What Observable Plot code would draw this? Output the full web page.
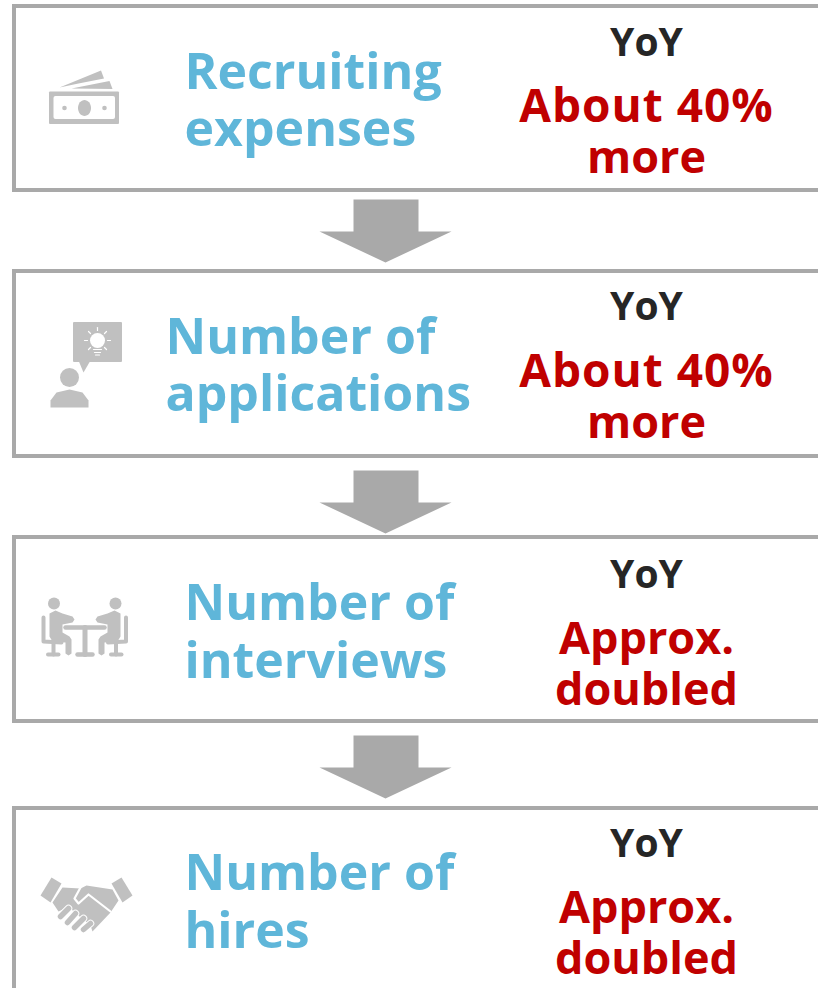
<!DOCTYPE html>
<html><head><meta charset="utf-8">
<style>html,body{margin:0;padding:0;background:#fff;overflow:hidden}svg{display:block}
.wide text{letter-spacing:1px}</style>
<script src="https://cdn.jsdelivr.net/npm/d3@7"></script>
<script src="https://cdn.jsdelivr.net/npm/@observablehq/plot@0.6"></script>
</head><body><script>
const FONT = "'Open Sans'";
const BLUE="#5fb6d9", RED="#c00000", DARK="#262626", GRAY="#a9a9a9", ICON="#c0c0c0";

const stepNames = [["Recruiting","expenses"],["Number of","applications"],["Number of","interviews"],["Number of","hires"]];
const stepX = [184,165,184,184];
const stepBase = [[88,145],[353,410],[619,677],[889,947]];
const yoyBase = [55,319,587,856];
const changes = [["About 40%","more"],["About 40%","more"],["Approx.","doubled"],["Approx.","doubled"]];
const changeBase = [[121,172],[386,437],[653,704],[922,973]];
const boxes = [[6,190],[271,456],[537,721],[808,1000]];
const arrowTops = [199,470,735];

const labels = stepNames.flatMap((p,i)=>p.map((t,j)=>({t,x:stepX[i],y:stepBase[i][j]})));
const yoy = yoyBase.map(y=>({t:"YoY",x:646,y}));
const chg = changes.flatMap((p,i)=>p.map((t,j)=>({t,x:646,y:changeBase[i][j]})));
const arrows = arrowTops.flatMap((t,i)=>[[353,0],[418,0],[418,32],[451,32],[385,63],[319,32],[353,32]].map(([x,d])=>({id:i,x,y:t+d})));

const poly=(id,pts)=>pts.map(([x,y])=>({id,x,y}));
const torsoL=[[49,613],[55,610],[62,613],[72,616],[74,619],[72,622],[62,624],[62,632],[69,636],[71,639],[71,653],[68,655],[65,653],[65,642],[52,641],[49,636]];
const torsoR=[[120,613],[114,610],[107,613],[97,616],[95,619],[97,622],[107,624],[107,632],[100,636],[98,639],[98,653],[101,655],[104,653],[104,642],[117,641],[120,636]];
const grayPolys=[
 ...poly("b1",[[59,87],[100.5,70],[103.5,78],[78,83]]),
 ...poly("b2",[[71,88],[109,80.5],[112,88.5]]),
 ...poly("tail",[[78,360],[90,360],[83,372]]),
 ...poly("cl",[[40,895],[51,877],[61,883],[50,902]]),
 ...poly("cr",[[111,883],[121,877],[132,895],[122,902]]),
 ...poly("hand",[[62,887],[80,888],[86,885],[112,889],[118,900],[110,912],[92,931],[90,925],[73,911],[69,906],[58,911],[52,902]]),
 ...poly("tl",torsoL),
 ...poly("tr",torsoR),
];
const rectsGray=[{x1:49,x2:119,y1:91.5,y2:124},{x1:73,x2:122,y1:322,y2:362}];
const rectsWhite=[{x1:53.5,x2:115,y1:96,y2:119}];
const ellipse=poly("e",[[84,99.5],[88.6,101.8],[90.5,107.5],[88.6,113.2],[84,115.5],[79.4,113.2],[77.5,107.5],[79.4,101.8]]);
const grayDots=[{x:64,y:107.5,r:2.3},{x:104,y:107.5,r:2.3},{x:69,y:377,r:9.5},{x:53.5,y:603,r:6},{x:115,y:603,r:6}];
const dome=poly("d",[[50,407],[50,400],[56,392],[69,389],[82,392],[88,400],[88,407]]);
const whiteDots=[{x:97,y:340,r:7.5}];
const bulb=[[[93,349],[101,349]],[[94,352],[100,352]],[[95,354.5],[99,354.5]],
 [[84,340],[87,340]],[[107,340],[110,340]],[[97,327],[97,330]],[[88,331],[90,333]],[[106,331],[104,333]],[[88,349],[90,347]],[[106,349],[104,347]]];
const seated=[
 [4,[[43,617],[43,641],[61,642]]],[4,[[53,642],[53,654]]],[4,[[47.5,654],[58,654]]],
 [4,[[125.5,617],[125.5,641],[107.5,642]]],[4,[[115.5,642],[115.5,654]]],[4,[[110.5,654],[121,654]]],
 [4.5,[[65,627],[104,627]]],[5,[[84.5,627],[84.5,654]]],[4.5,[[77,654],[92,654]]]
];
const thumb=[[2.2,[[80,887],[74,898],[78,903],[88,894],[110,911]]]];
const fingerLines=[[[60,916],[68,908]],[[67,922],[75,913]],[[74,927],[83,918]],[[83,929],[90,923]]];

const strokeMarks=(list,stroke)=>list.map(([w,pts])=>Plot.line(pts.map(([x,y])=>({x,y})),{x:"x",y:"y",stroke,strokeWidth:w,strokeLinecap:"round",strokeLinejoin:"round",curve:"linear"}));
const txt=(data,o)=>Plot.text(data,{x:"x",y:"y",text:"t",lineAnchor:"bottom",fontFamily:FONT,fontWeight:"bold",...o});

const chart=Plot.plot({
 width:818,height:988,margin:0,
 x:{domain:[0,818],range:[0,818],axis:null},
 y:{domain:[0,988],range:[0,988],axis:null},
 r:{type:"identity"},
 style:{background:"#fff"},
 marks:[
  Plot.rect(boxes,{x1:()=>14,x2:()=>840,y1:d=>d[0],y2:d=>d[1],fill:"#fff",stroke:GRAY,strokeWidth:4}),
  Plot.line(arrows,{x:"x",y:"y",z:"id",fill:GRAY,stroke:"none",curve:"linear-closed"}),
  Plot.rect(rectsGray,{x1:"x1",x2:"x2",y1:"y1",y2:"y2",fill:ICON,r:1}),
  Plot.rect(rectsWhite,{x1:"x1",x2:"x2",y1:"y1",y2:"y2",fill:"#fff",r:2}),
  Plot.line(ellipse,{x:"x",y:"y",fill:ICON,stroke:"none",curve:"catmull-rom-closed"}),
  Plot.line(grayPolys,{x:"x",y:"y",z:"id",fill:ICON,stroke:"none",curve:"linear-closed"}),
  Plot.line(dome,{x:"x",y:"y",fill:ICON,stroke:"none",curve:"linear-closed"}),
  Plot.dot(grayDots,{x:"x",y:"y",r:"r",fill:ICON,stroke:"none"}),
  Plot.dot(whiteDots,{x:"x",y:"y",r:"r",fill:"#fff",stroke:"none"}),
  ...strokeMarks(bulb.map(p=>[1.2,p]),"#fff"),
  ...strokeMarks(seated,ICON),
  ...strokeMarks(thumb,"#fff"),
  ...strokeMarks(fingerLines.map(p=>[7.5,p]),"#fff"),
  ...strokeMarks(fingerLines.map(p=>[5.5,p]),ICON),
  txt(labels,{fill:BLUE,fontSize:50,textAnchor:"start"}),
  txt(yoy,{fill:DARK,fontSize:39,textAnchor:"middle"}),
  txt(chg.filter(d=>d.t==="About 40%"),{fill:RED,fontSize:46,textAnchor:"middle",className:"wide"}),
  txt(chg.filter(d=>d.t!=="About 40%"),{fill:RED,fontSize:45,textAnchor:"middle"}),
 ]
});
document.body.appendChild(chart);
</script></body></html>
